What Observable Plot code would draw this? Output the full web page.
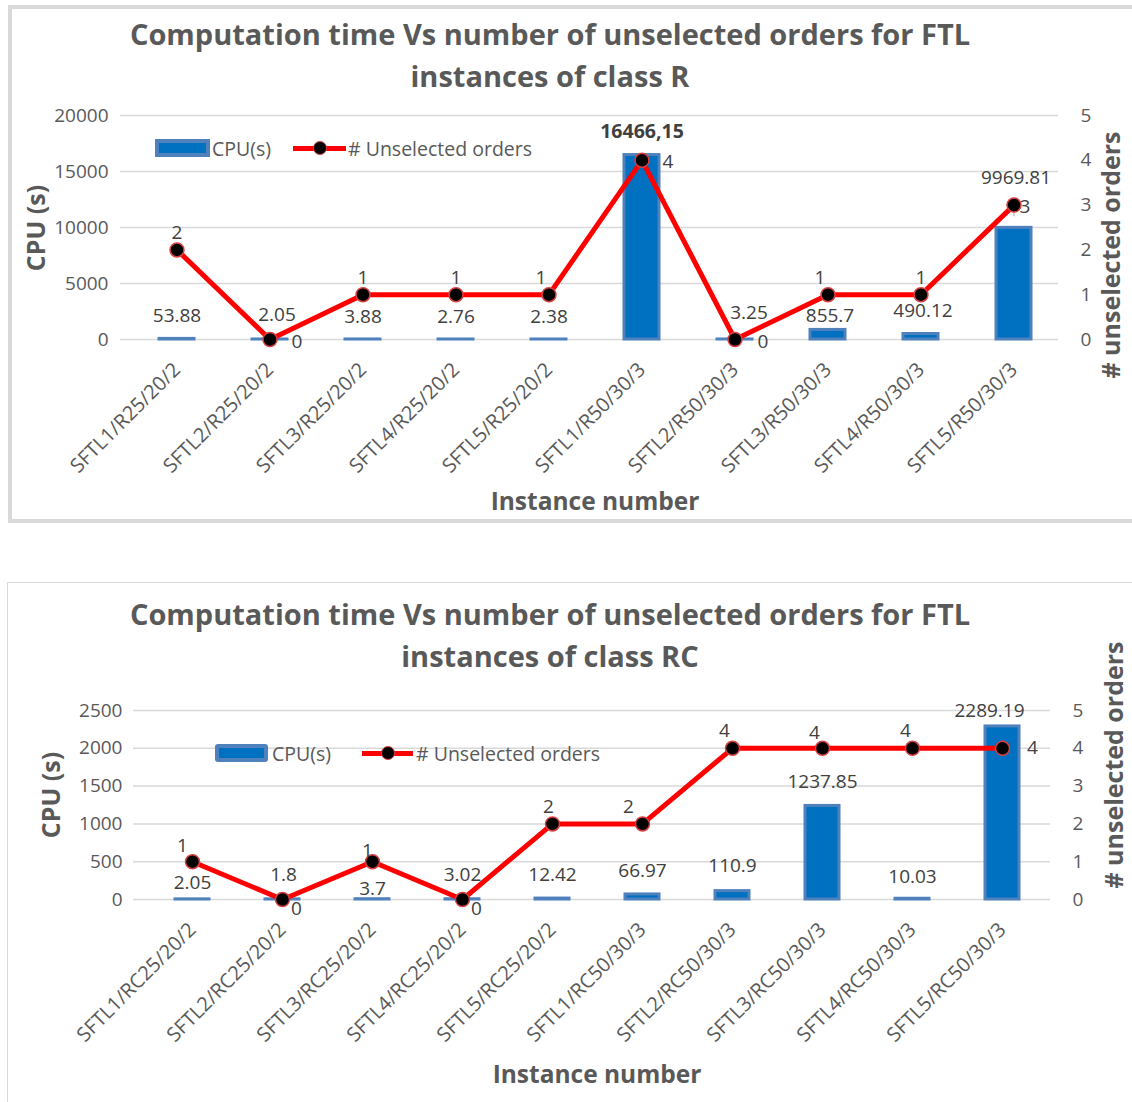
<!DOCTYPE html>
<html>
<head>
<meta charset="utf-8">
<script src="https://cdn.jsdelivr.net/npm/d3@7"></script>
<script src="https://cdn.jsdelivr.net/npm/@observablehq/plot@0.6"></script>
<style>
  html, body { margin: 0; padding: 0; background: #fff; }
  #page { position: relative; width: 1132px; height: 1102px; overflow: hidden; font-family: "Open Sans", "Noto Sans", sans-serif; color: #595959; }
  .abs { position: absolute; }
  .title { position: absolute; left: 0; width: 1100px; text-align: center; font-weight: bold; font-size: 29px; line-height: 42px; color: #595959; }
  .rot { position: absolute; transform: translate(-50%, -50%) rotate(-90deg); white-space: nowrap; font-weight: bold; font-size: 25px; color: #595959; }
  .xt { position: absolute; transform: translate(-50%, -50%); white-space: nowrap; font-weight: bold; font-size: 24.5px; color: #595959; }
  .leg { position: absolute; height: 22px; display: flex; align-items: center; font-size: 19.5px; color: #595959; white-space: nowrap; }
  .barsw { position: absolute; box-sizing: border-box; background: #0070C0; border: 4px solid #4F81BD; }
  .linesw { position: absolute; height: 5px; background: #FF0000; }
  .dotsw { position: absolute; width: 14px; height: 14px; box-sizing: border-box; border-radius: 50%; background: #000; border: 1.5px solid #d94040; }
  svg { position: absolute; }
</style>
</head>
<body>
<div id="page"></div>
<script>
// ---------------- DATA ----------------
const catsR = ["SFTL1/R25/20/2", "SFTL2/R25/20/2", "SFTL3/R25/20/2", "SFTL4/R25/20/2", "SFTL5/R25/20/2",
               "SFTL1/R50/30/3", "SFTL2/R50/30/3", "SFTL3/R50/30/3", "SFTL4/R50/30/3", "SFTL5/R50/30/3"];
const cpuR = [53.88, 2.05, 3.88, 2.76, 2.38, 16466.15, 3.25, 855.7, 490.12, 9969.81];
const cpuLabelsR = ["53.88", "2.05", "3.88", "2.76", "2.38", "16466,15", "3.25", "855.7", "490.12", "9969.81"];
const unselR = [2, 0, 1, 1, 1, 4, 0, 1, 1, 3];
const cpuTicksR = [0, 5000, 10000, 15000, 20000];

const catsRC = ["SFTL1/RC25/20/2", "SFTL2/RC25/20/2", "SFTL3/RC25/20/2", "SFTL4/RC25/20/2", "SFTL5/RC25/20/2",
                "SFTL1/RC50/30/3", "SFTL2/RC50/30/3", "SFTL3/RC50/30/3", "SFTL4/RC50/30/3", "SFTL5/RC50/30/3"];
const cpuRC = [2.05, 1.8, 3.7, 3.02, 12.42, 66.97, 110.9, 1237.85, 10.03, 2289.19];
const cpuLabelsRC = ["2.05", "1.8", "3.7", "3.02", "12.42", "66.97", "110.9", "1237.85", "10.03", "2289.19"];
const unselRC = [1, 0, 1, 0, 2, 2, 4, 4, 4, 4];
const cpuTicksRC = [0, 500, 1000, 1500, 2000, 2500];

const unselTicks = [0, 1, 2, 3, 4, 5];

const titleR = ["Computation time Vs number of unselected orders for FTL", "instances of class R"];
const titleRC = ["Computation time Vs number of unselected orders for FTL", "instances of class RC"];
const yTitle = "CPU (s)";
const y2Title = "# unselected orders";
const xTitle = "Instance number";
const legBar = "CPU(s)";
const legLine = "# Unselected orders";

// ---------------- LAYOUT / STYLE ----------------
const layoutR = {
  top: 0, height: 522, marginLeft: 120, marginRight: 74, marginTop: 115, marginBottom: 183,
  align: 0.6, yMax: 20000, leftPad: 12, rightPad: 22,
  barDx: [0, 7, 0, 0, 0, 0, 14, 2, 2, 2], barDy: [-23, -25, -23, -23, -23, -23, -27, -14, -23, -50],
  bold: [false, false, false, false, false, true, false, false, false, false],
  lineDx: [0, 27, 0, 0, -8, 26, 28, -8, 0, 11], lineDy: [-17, 2, -17, -17, -17, 2, 2, -17, -17, 2],
  leaderV: [9], leaderH: []
};
const layoutRC = {
  top: 583, height: 519, marginLeft: 133, marginRight: 82, marginTop: 127, marginBottom: 203,
  align: 0.58, yMax: 2500, leftPad: 11, rightPad: 22,
  barDx: [0, 1, 0, 0, 0, 0, 0, 0, 0, -13], barDy: [-16, -24, -10, -24, -24, -24, -25, -24, -22, -16],
  bold: [false, false, false, false, false, false, false, false, false, false],
  lineDx: [-10, 14, -5, 14, -4, -14, -8, -8, -7, 30], lineDy: [-16, 9, -11, 9, -17, -17, -17, -15, -17, 0],
  leaderV: [], leaderH: [9]
};

const FONT = '"Open Sans", "Noto Sans", sans-serif';

function makeChart(cats, cpu, cpuLabels, unsel, cpuTicks, L) {
  const k = L.yMax / 5;
  const rows = cats.map((cat, i) => ({cat, cpu: cpu[i], lab: cpuLabels[i], n: unsel[i] * k, nl: String(unsel[i])}));
  const marks = [
    Plot.gridY(cpuTicks, {stroke: "#d9d9d9", strokeOpacity: 1, strokeWidth: 1.5}),
    Plot.barY(rows, {x: "cat", y: "cpu", fill: "#0070C0", stroke: "#4F81BD", strokeWidth: 3}),
    Plot.axisY(cpuTicks, {anchor: "left", tickSize: 0, tickPadding: L.leftPad, fontSize: 19,
      tickFormat: d => String(d), label: null}),
    Plot.axisY(unselTicks.map(v => v * k), {anchor: "right", tickSize: 0, tickPadding: L.rightPad, fontSize: 19,
      tickFormat: d => String(Math.round(d / k)), label: null}),
    Plot.axisX({tickRotate: -45, tickSize: 0, tickPadding: 27, fontSize: 20, label: null}),
    // leader lines for moved data labels
    Plot.ruleX(L.leaderV.map(i => rows[i]), {x: "cat", y1: "cpu", y2: "n", insetTop: -11, stroke: "#a6a6a6", strokeWidth: 1}),
    Plot.ruleY(L.leaderH.map(i => rows[i]), {x: "cat", y: "n", insetLeft: 22, insetRight: -6, stroke: "#a6a6a6", strokeWidth: 1.5}),
    Plot.line(rows, {x: "cat", y: "n", stroke: "#FF0000", strokeWidth: 5}),
    Plot.dot(rows, {x: "cat", y: "n", r: 7, fill: "#000", stroke: "#d94040", strokeWidth: 1.5}),
    ...rows.map((d, i) => Plot.text([d], {x: "cat", y: "cpu", text: "lab", dx: L.barDx[i], dy: L.barDy[i],
      fontSize: L.bold[i] ? 19.5 : 19, fontWeight: L.bold[i] ? "bold" : "normal", fill: "#404040"})),
    ...rows.map((d, i) => Plot.text([d], {x: "cat", y: "n", text: "nl", dx: L.lineDx[i], dy: L.lineDy[i],
      fontSize: 19, fill: "#404040"}))
  ];
  const svg = Plot.plot({
    width: 1132, height: L.height,
    marginLeft: L.marginLeft, marginRight: L.marginRight, marginTop: L.marginTop, marginBottom: L.marginBottom,
    x: {domain: cats, paddingInner: 0.62, paddingOuter: 0.35, align: L.align, axis: null},
    y: {domain: [0, L.yMax], axis: null},
    style: {fontFamily: FONT, color: "#595959", background: "transparent", overflow: "visible"},
    marks
  });
  svg.style.left = "0px";
  svg.style.top = L.top + "px";
  return svg;
}

const page = document.getElementById("page");
function add(html) { page.insertAdjacentHTML("beforeend", html); }

// panel frames
add('<div class="abs" style="left:8px;top:5px;width:1140px;height:518px;box-sizing:border-box;border:4px solid #d9d9d9;"></div>');
add('<div class="abs" style="left:7px;top:582px;width:1140px;height:540px;box-sizing:border-box;border:1px solid #d9d9d9;"></div>');

// charts
page.appendChild(makeChart(catsR, cpuR, cpuLabelsR, unselR, cpuTicksR, layoutR));
page.appendChild(makeChart(catsRC, cpuRC, cpuLabelsRC, unselRC, cpuTicksRC, layoutRC));

// titles
add(`<div class="title" style="top:13px">${titleR[0]}<br>${titleR[1]}</div>`);
add(`<div class="title" style="top:593px">${titleRC[0]}<br>${titleRC[1]}</div>`);

// axis titles
add(`<div class="rot" style="left:35px;top:228px">${yTitle}</div>`);
add(`<div class="rot" style="left:1110px;top:255px">${y2Title}</div>`);
add(`<div class="xt" style="left:595px;top:500px">${xTitle}</div>`);
add(`<div class="rot" style="left:50px;top:795px">${yTitle}</div>`);
add(`<div class="rot" style="left:1113px;top:765px">${y2Title}</div>`);
add(`<div class="xt" style="left:597px;top:1073px">${xTitle}</div>`);

// legends
function legend(y, barX, barW, textX1, lineX, lineW, textX2, radius) {
  add(`<div class="barsw" style="left:${barX}px;top:${y - 9}px;width:${barW}px;height:18px;border-radius:${radius}px"></div>`);
  add(`<div class="leg" style="left:${textX1}px;top:${y - 11}px">${legBar}</div>`);
  add(`<div class="linesw" style="left:${lineX}px;top:${y - 2.5}px;width:${lineW}px"></div>`);
  add(`<div class="dotsw" style="left:${lineX + lineW / 2 - 7}px;top:${y - 7}px"></div>`);
  add(`<div class="leg" style="left:${textX2}px;top:${y - 11}px">${legLine}</div>`);
}
legend(148, 155, 55, 212, 293, 53, 348, 0);
legend(753, 215, 53, 272, 362, 51, 416, 3);
</script>
</body>
</html>
